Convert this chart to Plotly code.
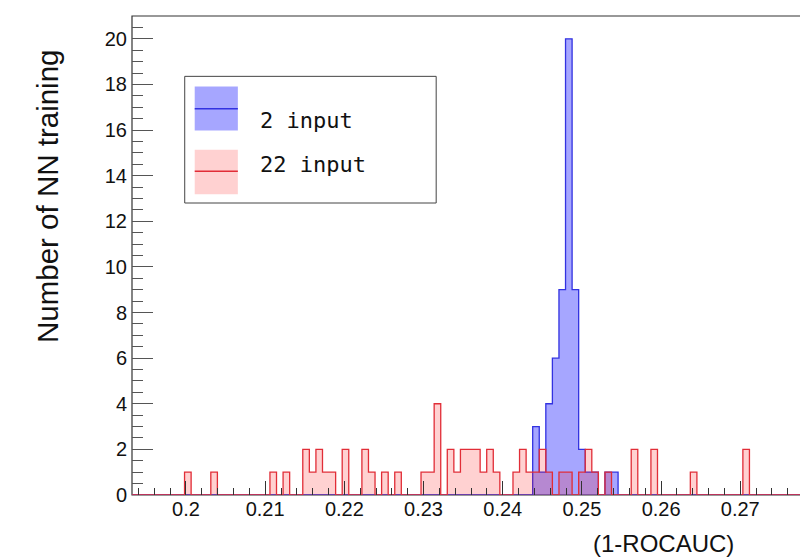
import plotly.graph_objects as go

# ---- data (histogram bins: uniform width, index 0 starts at bin_start) ----
bin_start = 0.19982
bin_width = 0.0008295
first_index = -8
last_index = 93

series_names = ["2 input", "22 input"]

idx_2input = [53, 54, 55, 56, 57, 58, 59, 60, 61, 62, 64, 65]
cnt_2input = [3, 1, 4, 6, 9, 20, 9, 2, 1, 1, 1, 1]

idx_22input = [0, 4, 13, 15, 18, 19, 20, 21, 22, 24, 27, 28, 30, 32, 36, 37, 38,
               40, 41, 42, 43, 44, 45, 46, 47, 50, 51, 52, 53, 54, 55, 57, 58,
               60, 61, 62, 64, 68, 71, 77, 85]
cnt_22input = [1, 1, 1, 1, 2, 1, 2, 1, 1, 2, 2, 1, 1, 1, 1, 1, 4,
               2, 1, 2, 2, 2, 1, 2, 1, 1, 2, 1, 1, 2, 1, 1, 1,
               1, 2, 1, 1, 2, 2, 1, 2]

x_title = "(1-ROCAUC)"
y_title = "Number of NN training"
x_tick_vals = [0.2, 0.21, 0.22, 0.23, 0.24, 0.25, 0.26, 0.27]
x_tick_text = ["0.2", "0.21", "0.22", "0.23", "0.24", "0.25", "0.26", "0.27"]
y_tick_vals = [0, 2, 4, 6, 8, 10, 12, 14, 16, 18, 20]
y_max = 21


def step_arrays(idx, cnt):
    d = dict(zip(idx, cnt))
    ks = list(range(first_index, last_index + 1))
    xs = [bin_start + k * bin_width for k in ks]
    ys = [d.get(k, 0) for k in ks]
    xs.append(bin_start + (last_index + 1) * bin_width)
    ys.append(ys[-1])
    return xs, ys


x_lo = bin_start + first_index * bin_width
x_hi = bin_start + (last_index + 1) * bin_width

BLUE_LINE = "rgb(50,50,225)"
BLUE_FILL = "rgba(0,0,255,0.35)"
RED_LINE = "rgb(225,45,55)"
RED_FILL = "rgba(255,0,0,0.18)"

fig = go.Figure()
xb, yb = step_arrays(idx_2input, cnt_2input)
fig.add_trace(go.Scatter(x=xb, y=yb, mode="lines", line=dict(shape="hv", color=BLUE_LINE, width=1.3),
                         fill="tozeroy", fillcolor=BLUE_FILL, name=series_names[0], hoverinfo="skip"))
xr, yr = step_arrays(idx_22input, cnt_22input)
fig.add_trace(go.Scatter(x=xr, y=yr, mode="lines", line=dict(shape="hv", color=RED_LINE, width=1.3),
                         fill="tozeroy", fillcolor=RED_FILL, name=series_names[1], hoverinfo="skip"))

tickfont = dict(family="Liberation Sans, Arial, sans-serif", size=20, color="#111")

fig.update_layout(
    width=808, height=558,
    margin=dict(l=124, r=14, t=8, b=71),
    paper_bgcolor="white", plot_bgcolor="white",
    showlegend=False,
    xaxis=dict(range=[x_lo, x_hi], showgrid=False, zeroline=False, showline=False,
               tickvals=x_tick_vals, ticktext=x_tick_text, ticks="inside", ticklen=14,
               tickcolor="#333", tickwidth=1, tickfont=tickfont,
               minor=dict(dtick=0.002, tick0=0.2, ticks="inside", ticklen=7,
                          tickcolor="#333", tickwidth=1, showgrid=False)),
    yaxis=dict(range=[0, y_max], showgrid=False, zeroline=False, showline=False,
               tickvals=y_tick_vals, ticks="inside", ticklen=21, ticklabelstandoff=4,
               tickcolor="#555", tickwidth=1, tickfont=tickfont,
               minor=dict(dtick=0.5, tick0=0, ticks="inside", ticklen=11,
                          tickcolor="#555", tickwidth=1, showgrid=False)),
)

# frame
fig.add_shape(type="rect", xref="paper", yref="paper", x0=0, y0=0, x1=1, y1=1,
              line=dict(color="#333", width=1.2), layer="below")

# legend box
fig.add_shape(type="rect", xref="paper", yref="paper", x0=0.0787, x1=0.454, y0=0.6096, y1=0.874,
              line=dict(color="#444", width=1), fillcolor="white", layer="above")
legend_rows = [(0.853, 0.761, 0.8065, 0.782, BLUE_FILL, BLUE_LINE),
               (0.721, 0.628, 0.6758, 0.689, RED_FILL, RED_LINE)]
for name, (yt, ybm, yl, ytxt, fc, lc) in zip(series_names, legend_rows):
    fig.add_shape(type="rect", xref="paper", yref="paper", x0=0.0936, x1=0.158, y0=ybm, y1=yt,
                  line=dict(width=0), fillcolor=fc, layer="above")
    fig.add_shape(type="line", xref="paper", yref="paper", x0=0.0936, x1=0.158, y0=yl, y1=yl,
                  line=dict(color=lc, width=1.5), layer="above")
    fig.add_annotation(xref="paper", yref="paper", x=0.188, y=ytxt, text=name, showarrow=False,
                       xanchor="left", yanchor="middle",
                       font=dict(family="DejaVu Sans Mono, monospace", size=22, color="#111"))

# axis titles
fig.add_annotation(xref="paper", yref="paper", x=-0.127, y=0.624, text=y_title, showarrow=False,
                   textangle=-90, xanchor="center", yanchor="middle",
                   font=dict(family="Liberation Sans, Arial, sans-serif", size=29.5, color="#111"))
fig.add_annotation(xref="paper", yref="paper", x=0.794, y=-0.101, text=x_title, showarrow=False,
                   xanchor="center", yanchor="middle", borderpad=0,
                   font=dict(family="Liberation Sans, Arial, sans-serif", size=24, color="#111"))

fig.write_html("out.html")
